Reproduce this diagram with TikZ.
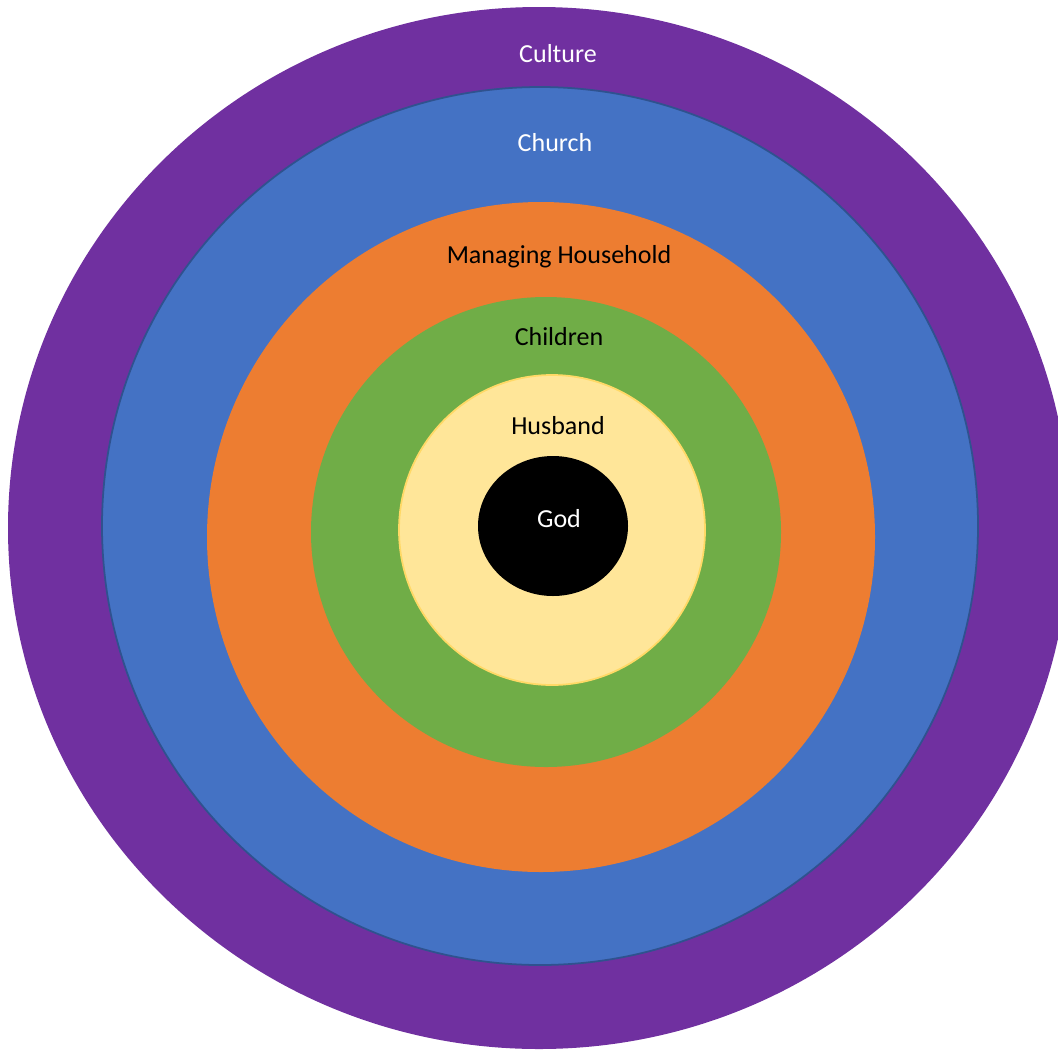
\documentclass[tikz,border=0pt]{standalone}
\usepackage{fontspec}
\setmainfont{Carlito}
\definecolor{ringpurple}{HTML}{7030A0}
\definecolor{ringblue}{HTML}{4472C4}
\definecolor{ringblueline}{HTML}{2F528F}
\definecolor{ringorange}{HTML}{ED7D31}
\definecolor{ringgreen}{HTML}{70AD47}
\definecolor{ringyellow}{HTML}{FFE699}
\definecolor{ringyellowline}{HTML}{FFD966}
\tikzset{
  ringlabel/.style={font=\fontsize{14.8}{17}\selectfont, inner sep=0pt, anchor=center},
}
\begin{document}
\begin{tikzpicture}[x=0.02cm,y=-0.02cm]
        \useasboundingbox (0,0) rectangle (1058,1052);
        \clip (0,0) rectangle (1058,1052);
        \fill[ringpurple] (539,528) ellipse [x radius=531, y radius=521];
        \filldraw[fill=ringblue, draw=ringblueline, line width=1pt] (540,526) ellipse [x radius=438, y radius=439];
        \fill[ringorange] (541,537) ellipse [x radius=334, y radius=335];
        \fill[ringgreen] (546,532) ellipse [x radius=235, y radius=235];
        \filldraw[fill=ringyellow, draw=ringyellowline, line width=1pt] (552,530) ellipse [x radius=153, y radius=155];
        \fill[black] (553,526) ellipse [x radius=75, y radius=70];
        \node[ringlabel, text=white] (culture) at (558,54) {Culture};
        \node[ringlabel, text=white] (church) at (555,143) {Church};
        \node[ringlabel] (household) at (559,257) {Managing Household};
        \node[ringlabel] (children) at (559,337) {Children};
        \node[ringlabel] (husband) at (558,426) {Husband};
        \node[ringlabel, text=white] (god) at (559,519) {God};
\end{tikzpicture}
\end{document}
